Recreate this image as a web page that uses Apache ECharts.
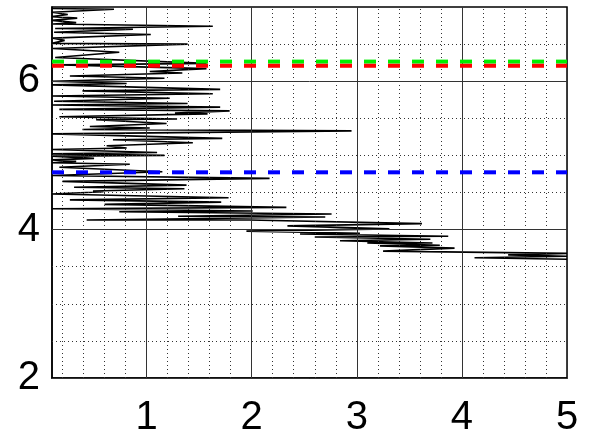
<!DOCTYPE html>
<html><head><meta charset="utf-8">
<script src="https://cdn.jsdelivr.net/npm/echarts@6/dist/echarts.min.js"></script>
<style>html,body{margin:0;padding:0;background:#fff}#c{width:593px;height:444px}</style>
</head><body><div id="c"></div>
<script>
// Trace vertices (x, y) in drawing order
const traceX = [0.10,0.69,0.10,0.25,0.10,0.34,0.10,0.33,0.11,1.63,0.13,0.87,0.12,1.04,0.11,0.22,0.10,1.39,0.11,0.74,0.13,1.57,0.19,1.57,1.03,1.34,0.27,1.17,0.10,
  0.81,0.10,1.70,0.39,1.63,0.10,1.22,0.12,1.39,0.10,1.70,0.17,1.79,1.27,1.58,0.17,1.29,0.52,1.19,0.46,1.03,0.39,2.95,0.10,1.72,0.68,1.44,0.62,0.81,0.10,1.10,0.10,1.17,0.10,
  0.50,0.10,0.33,0.10,0.84,0.17,1.15,0.10,2.17,0.20,1.38,0.31,1.36,0.49,0.59,0.10,1.78,0.27,1.71,0.60,2.33,0.10,2.01,0.74,2.76,1.30,2.70,0.43,1.98,
  3.62,2.34,3.31,1.95,3.03,2.46,3.87,2.60,3.70,2.84,3.72,3.10,3.79,3.22,3.93,3.25,5.00,4.44,5.00,4.12,5.00];
const traceY = [6.98,6.97,6.93,6.90,6.87,6.85,6.82,6.79,6.77,6.74,6.71,6.70,6.66,6.63,6.58,6.55,6.51,6.50,6.44,6.39,6.32,6.24,6.22,6.17,6.13,6.11,6.07,6.04,6.00,
  5.97,5.95,5.89,5.87,5.83,5.80,5.77,5.73,5.70,5.68,5.65,5.62,5.60,5.57,5.56,5.52,5.49,5.48,5.43,5.39,5.37,5.35,5.33,5.29,5.23,5.21,5.17,5.13,5.10,5.08,5.04,5.02,5.00,4.99,
  4.96,4.94,4.92,4.90,4.88,4.84,4.78,4.73,4.69,4.65,4.60,4.57,4.55,4.52,4.51,4.48,4.43,4.40,4.37,4.34,4.30,4.28,4.25,4.24,4.21,4.18,4.17,4.13,4.13,
  4.08,4.05,4.01,3.98,3.95,3.94,3.91,3.90,3.87,3.85,3.82,3.82,3.79,3.78,3.75,3.71,3.68,3.66,3.64,3.62,3.60];
const greenLevel = [6.264];
const redLevel = [6.208];
const blueLevel = [4.772];
const xRange = [0.1, 5];
const yRange = [2, 7];
const xMajorTicks = [1, 2, 3, 4, 5];
const xMinorTicks = [0.2,0.4,0.6,0.8,1.2,1.4,1.6,1.8,2.2,2.4,2.6,2.8,3.2,3.4,3.6,3.8,4.2,4.4,4.6,4.8];
const yMajorTicks = [2, 4, 6];
const yMinorTicks = [2.5, 3, 3.5, 4.5, 5, 5.5, 6.5];

const chart = echarts.init(document.getElementById('c'), null, {renderer: 'canvas'});
const minorStyle = {color: '#333', width: 1, type: [1, 3]};
const majorStyle = {color: '#333', width: 1, type: 'solid'};
const gridLines = []
  .concat(xMinorTicks.map(v => ({xAxis: v, lineStyle: minorStyle})))
  .concat(yMinorTicks.map(v => ({yAxis: v, lineStyle: minorStyle})))
  .concat(xMajorTicks.map(v => ({xAxis: v, lineStyle: majorStyle})))
  .concat(yMajorTicks.map(v => ({yAxis: v, lineStyle: majorStyle})));

function level(v, color) {
  return {
    type: 'line', data: [[xRange[0], v[0]], [xRange[1], v[0]]], showSymbol: false, silent: true, z: 5,
    lineStyle: {color: color, width: 4, type: [12, 12]}
  };
}
const font = {fontFamily: 'Liberation Sans', fontSize: 40, color: '#000'};
chart.setOption({
  animation: false,
  backgroundColor: '#fff',
  grid: {left: 52, right: 26, top: 7, bottom: 66, show: true, borderColor: '#000', borderWidth: 1.5},
  xAxis: {type: 'value', min: xRange[0], max: xRange[1],
    axisLine: {show: true, onZero: false, lineStyle: {color: '#000', width: 1.5}},
    axisTick: {show: false}, splitLine: {show: false},
    axisLabel: Object.assign({customValues: xMajorTicks, margin: 20}, font)},
  yAxis: {type: 'value', min: yRange[0], max: yRange[1],
    axisLine: {show: true, onZero: false, lineStyle: {color: '#000', width: 1.5}},
    axisTick: {show: false}, splitLine: {show: false},
    axisLabel: Object.assign({customValues: yMajorTicks, margin: 12}, font)},
  series: [
    {type: 'line', data: [], z: 1, silent: true,
      markLine: {silent: true, symbol: ['none', 'none'], label: {show: false}, animation: false, data: gridLines}},
    {type: 'line', data: traceX.map((x, i) => [x, traceY[i]]), showSymbol: false, z: 3, silent: true,
      lineStyle: {color: '#000', width: 1.6}},
    level(greenLevel, '#00ee00'),
    level(redLevel, '#ff0000'),
    level(blueLevel, '#0000ff')
  ]
});
</script></body></html>
